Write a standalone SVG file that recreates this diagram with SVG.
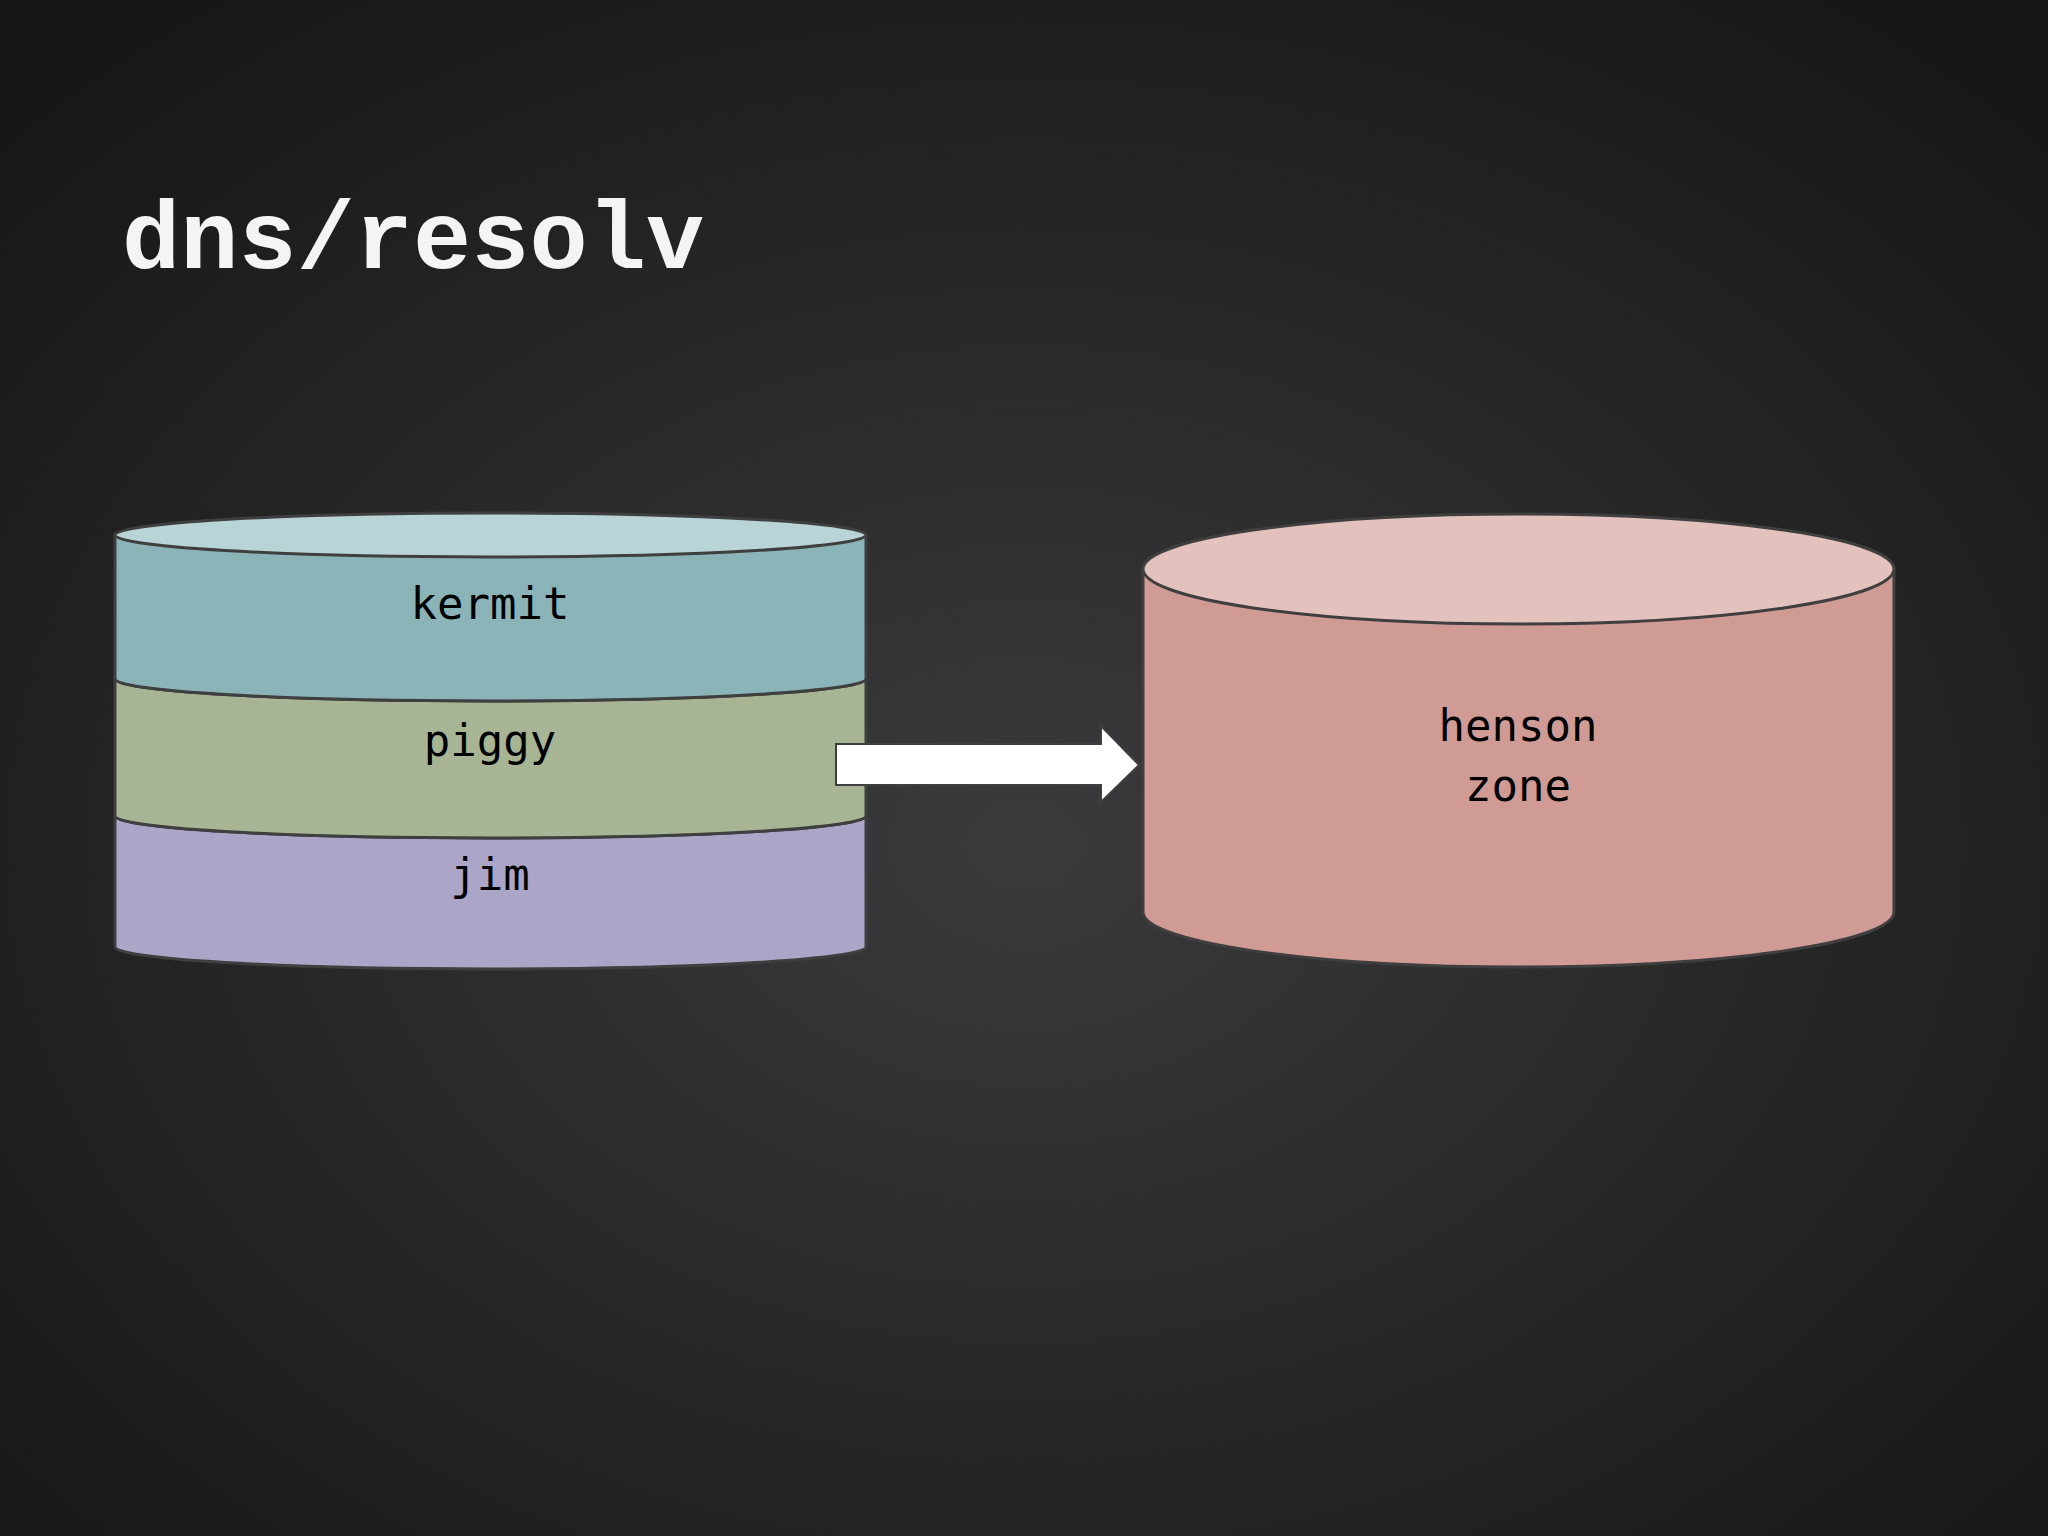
<svg xmlns="http://www.w3.org/2000/svg" width="2048" height="1536" viewBox="0 0 2048 1536">
<defs>
<radialGradient id="bg" cx="0.5" cy="0.55" r="0.7">
<stop offset="0" stop-color="#3b3a3c"/>
<stop offset="1" stop-color="#161616"/>
</radialGradient>
<style>
.s{stroke:#3f3f3f;stroke-width:3}
.t{font-family:"DejaVu Sans Mono","Liberation Mono",monospace;font-size:44px;fill:#000;text-anchor:middle;dominant-baseline:middle}
</style>
</defs>
<rect width="2048" height="1536" fill="url(#bg)"/>
<text x="122" y="268" font-family="'Liberation Mono',monospace" font-weight="bold" font-size="97" fill="#f4f4f4">dns/resolv</text>
<g id="stack">
<path class="s" fill="#aba6c8" d="M115,816 A375.5,22 0 0 0 866,816 L866,947 A375.5,22 0 0 1 115,947 Z"/>
<path class="s" fill="#a8b595" d="M115,679 A375.5,22 0 0 0 866,679 L866,816 A375.5,22 0 0 1 115,816 Z"/>
<path class="s" fill="#8ab4b8" d="M115,535 L866,535 L866,679 A375.5,22 0 0 1 115,679 Z"/>
<ellipse class="s" fill="#b9d4d6" cx="490.5" cy="535" rx="375.5" ry="22"/>
<text class="t" x="490" y="607">kermit</text>
<text class="t" x="490" y="744">piggy</text>
<text class="t" x="490" y="878">jim</text>
</g>
<g id="henson">
<path class="s" fill="#d09b94" d="M1143,569 L1894,569 L1894,912 A375.5,55 0 0 1 1143,912 Z"/>
<ellipse class="s" fill="#e3c1bc" cx="1518.5" cy="569" rx="375.5" ry="55"/>
<text class="t" x="1518" y="729">henson</text>
<text class="t" x="1518" y="789">zone</text>
</g>
<g id="connectors">
<path fill="#ffffff" stroke="#3f3f3f" stroke-width="2" d="M836,744 L1101,744 L1101,726 L1139,765 L1101,802 L1101,785 L836,785 Z"/>
</g>
</svg>
